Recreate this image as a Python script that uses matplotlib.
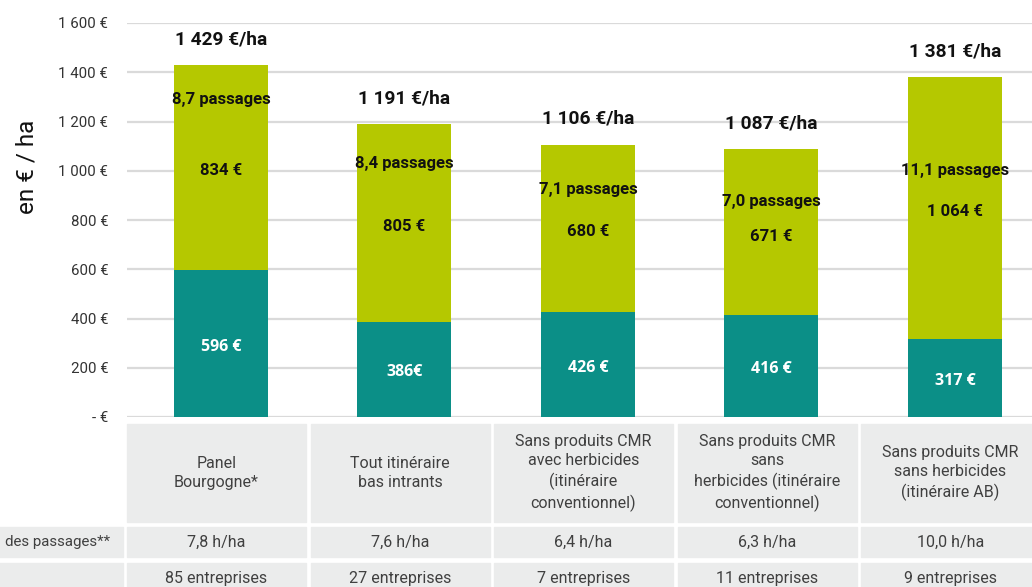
import matplotlib.pyplot as plt
import numpy as np

plt.rcParams['font.family'] = ['Roboto', 'DejaVu Sans']

# data
categories = ["Panel\nBourgogne*",
              "Tout itinéraire\nbas intrants",
              "Sans produits CMR\navec herbicides\n(itinéraire\nconventionnel)",
              "Sans produits CMR\nsans\nherbicides (itinéraire\nconventionnel)",
              "Sans produits CMR\nsans herbicides\n(itinéraire AB)"]
bas = [596, 386, 426, 416, 317]
haut = [834, 805, 680, 671, 1064]
totaux = [1429, 1191, 1106, 1087, 1381]
bas_labels = ["596 €", "386€", "426 €", "416 €", "317 €"]
haut_labels = ["834 €", "805 €", "680 €", "671 €", "1 064 €"]
total_labels = ["1 429 €/ha", "1 191 €/ha", "1 106 €/ha", "1 087 €/ha", "1 381 €/ha"]
passages = ["8,7 passages", "8,4 passages", "7,1 passages", "7,0 passages", "11,1 passages"]
passages_y = [1291, 1031, 922, 877, 1003]
haut_y = [999, 775, 755, 735, 836]
temps = ["7,8 h/ha", "7,6 h/ha", "6,4 h/ha", "6,3 h/ha", "10,0 h/ha"]
entreprises = ["85 entreprises", "27 entreprises", "7 entreprises", "11 entreprises", "9 entreprises"]

teal = "#0B8F87"
vert = "#B5C800"
gris = "#EBECEC"
grille = "#DADADA"

W, H = 1032, 587
fig = plt.figure(figsize=(W / 100, H / 100), dpi=100)

ax_left = 127 / W
ax_w = 917.5 / W
ax = fig.add_axes([ax_left, (H - 417) / H, ax_w, (417 - 23) / H])

x = np.arange(len(categories)) + 0.012
ax.bar(x, bas, width=0.512, color=teal, zorder=3)
ax.bar(x, haut, bottom=bas, width=0.512, color=vert, zorder=3)

for i in range(len(x)):
    ax.text(x[i], bas[i] / 2 - 12, bas_labels[i], ha='center', va='center',
            color='white', fontsize=11.5, fontweight='bold',
            family=['Open Sans', 'DejaVu Sans'], zorder=4)
    ax.text(x[i], haut_y[i], haut_labels[i], ha='center', va='center',
            color='#111111', fontsize=12, fontweight='bold', zorder=4)
    ax.text(x[i], passages_y[i], passages[i], ha='center', va='center',
            color='#111111', fontsize=12, fontweight='bold', zorder=4)
    ax.annotate(total_labels[i], (x[i], totaux[i]), xytext=(0, 18.5), textcoords='offset points',
                ha='center', va='center', fontsize=13.8, fontweight='bold', color='#111111')

ax.set_xlim(-0.5, 4.5)
ax.set_ylim(0, 1600)
ticks = np.arange(0, 1601, 200)
ax.set_yticks(ticks)
ax.set_yticklabels(["- €"] + ["{:,} €".format(t).replace(",", " ") for t in ticks[1:]],
                   fontsize=10.8, color='#333333')
ax.tick_params(axis='y', length=0, pad=13.5)
ax.set_xticks([])
ax.grid(axis='y', color=grille, linewidth=1.6, zorder=0)
for s in ax.spines.values():
    s.set_visible(False)

fig.text(27 / W, (H - 167) / H, "en € / ha", rotation=90, ha='center', va='center',
         fontsize=17.5, color='#111111')

# table below the axis
tax = fig.add_axes([ax_left, 0, ax_w, 1])
tax.set_xlim(-0.5, 4.5)
tax.set_ylim(H, 0)
tax.axis('off')

gap = 4.5 / 183.5
rows = [(424, 522), (527, 557), (563, 600)]
for i in range(len(x)):
    for (y0, y1) in rows:
        tax.add_patch(plt.Rectangle((i - 0.5, y0), 1 - gap, y1 - y0, color=gris, clip_on=False))
    cx = i - 0.5 + (1 - gap) / 2
    tax.text(cx, 473, categories[i], ha='center', va='center', fontsize=11.5,
             color='#404040', linespacing=1.35)
    tax.text(cx, 542, temps[i], ha='center', va='center', fontsize=11.5, color='#404040')
    tax.text(cx, 579, entreprises[i], ha='center', va='center', fontsize=11.5, color='#404040')

for (y0, y1) in rows[1:]:
    tax.add_patch(plt.Rectangle((-1.3, y0), 0.8 - gap, y1 - y0, color=gris, clip_on=False))
tax.text(-0.5 - 17 / 183.5, 542, "des passages**", ha='right', va='center', fontsize=10.8,
         color='#404040')

fig.savefig("out.png", dpi=100)
